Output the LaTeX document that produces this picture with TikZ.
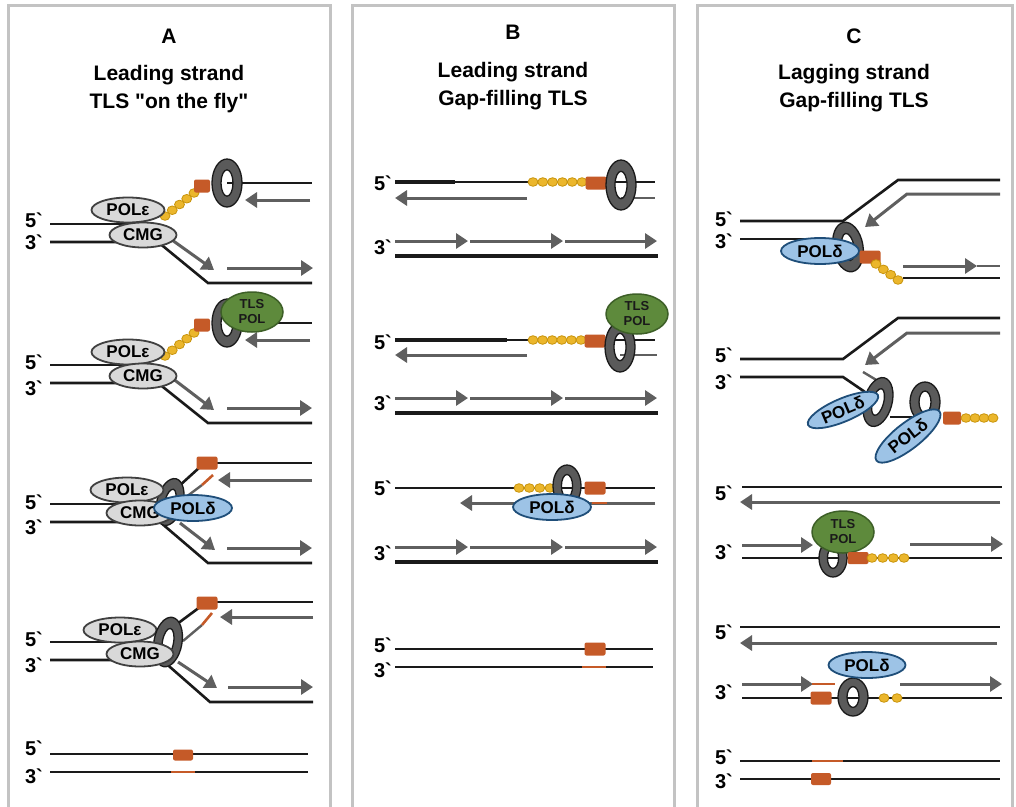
\documentclass[tikz,border=0pt]{standalone}
\usepackage{fontspec}
\setmainfont{Liberation Sans}
\usetikzlibrary{shapes.geometric, arrows.meta, calc}
\definecolor{strandblack}{HTML}{1A1A1A}
\definecolor{arrowgrey}{HTML}{5F5F5F}
\definecolor{framegrey}{HTML}{C3C3C3}
\definecolor{lesionorange}{HTML}{C55A28}
\definecolor{beadyellow}{HTML}{EBB62C}
\definecolor{beadedge}{HTML}{C8940C}
\definecolor{clampgrey}{HTML}{5A5A5A}
\definecolor{polegrey}{HTML}{D9D9D9}
\definecolor{poledge}{HTML}{404040}
\definecolor{deltablue}{HTML}{9DC3E6}
\definecolor{deltaedge}{HTML}{1F4E79}
\definecolor{tlsgreen}{HTML}{5E8A3C}
\definecolor{tlsedge}{HTML}{3D5F27}

% sliding clamp: [rotation]{centre}{x radius}{y radius}
\newcommand{\clampring}[4][0]{%
  \fill[clampgrey, even odd rule, rotate around={#1:(#2)}]
    (#2) ellipse [x radius=#3, y radius=#4] (#2) ellipse [x radius=0.4*#3, y radius=0.55*#4];
  \draw[strandblack, line width=1.3pt, rotate around={#1:(#2)}]
    (#2) ellipse [x radius=#3, y radius=#4] (#2) ellipse [x radius=0.4*#3, y radius=0.55*#4];
}
% ubiquitin chain: {from}{to}{number of beads}
\newcommand{\beadchain}[3]{%
  \foreach \k [evaluate=\k as \f using (\k-1)/(#3-1)] in {1,...,#3}
    \filldraw[fill=beadyellow, draw=beadedge, line width=0.8pt] ($(#1)!\f!(#2)$) ellipse [x radius=5, y radius=4.3];
}

\begin{document}
\begin{tikzpicture}[x=1pt, y=-1pt,
  strand/.style={draw=strandblack, line width=2.6pt},
  garrow/.style={draw=arrowgrey, line width=3pt, -{Triangle[length=12pt,width=15pt]}},
  gline/.style={draw=arrowgrey, line width=2.4pt},
  nick/.style={draw=lesionorange, line width=2.6pt},
  lesion/.style={fill=lesionorange, rounded corners=2pt, minimum width=21pt, minimum height=13pt, inner sep=0pt},
  polE/.style={ellipse, draw=poledge, line width=1.8pt, fill=polegrey, minimum width=73pt, minimum height=25pt, inner sep=0pt, font=\fontsize{17}{17}\selectfont\bfseries},
  cmg/.style={polE, minimum width=67pt},
  polD/.style={ellipse, draw=deltaedge, line width=1.8pt, fill=deltablue, minimum width=78pt, minimum height=26pt, inner sep=0pt, font=\fontsize{17}{17}\selectfont\bfseries},
  tlspol/.style={ellipse, draw=tlsedge, line width=1.5pt, fill=tlsgreen, minimum width=62pt, minimum height=40pt, inner sep=0pt, align=center, font=\fontsize{13}{15}\selectfont\bfseries, text=strandblack},
  endlabel/.style={anchor=east, inner sep=0pt, font=\fontsize{20}{20}\selectfont\bfseries},
  heading/.style={font=\fontsize{21}{28}\selectfont\bfseries, align=center},
  panel/.style={draw=framegrey, line width=3pt}
]
\useasboundingbox[fill=white] (0,0) rectangle (1016,806);

% Panel frames
\draw[panel] (8,812) -- (8,5) -- (330,5) -- (330,812);
\draw[panel] (352,812) -- (352,5) -- (674,5) -- (674,812);
\draw[panel] (697,812) -- (697,5) -- (1012,5) -- (1012,812);

% Headings
\node[heading] (titleA) at (169,36) {A};
\node[heading] (subA) at (169,89) {Leading strand\\TLS \textquotedbl on the fly\textquotedbl};
\node[heading] (titleB) at (513,32) {B};
\node[heading] (subB) at (513,86) {Leading strand\\Gap-filling TLS};
\node[heading] (titleC) at (854,36) {C};
\node[heading] (subC) at (854,88) {Lagging strand\\Gap-filling TLS};

%%% Panel A
% A1: fork stalled, TLS recruited
\node[endlabel] (a1five) at (43,220) {5\textasciigrave};
\node[endlabel] (a1three) at (43,242) {3\textasciigrave};
\draw[strand] (50,224) -- (140,224);
\draw[strand] (50,242) -- (158,242) -- (208,283) -- (312,283);
\draw[strand] (227,183) -- (312,183);
\draw[garrow] (310,200) -- (245,200);
\draw[garrow] (172,240) -- (214,270);
\draw[garrow] (227,268) -- (313,268);
\beadchain{194,193}{165,216}{5}
\node[lesion, minimum width=16pt] (a1les) at (202,186) {};
\clampring{227,183}{15}{24}
\node[polE] (a1pole) at (128,210) {POLε};
\node[cmg] (a1cmg) at (143,235) {CMG};

% A2: TLS polymerase on the clamp
\node[endlabel] (a2five) at (43,362) {5\textasciigrave};
\node[endlabel] (a2three) at (43,388) {3\textasciigrave};
\draw[strand] (50,365) -- (140,365);
\draw[strand] (50,383) -- (158,383) -- (208,423) -- (312,423);
\draw[strand] (227,323) -- (312,323);
\draw[garrow] (310,340) -- (245,340);
\draw[garrow] (172,378) -- (214,410);
\draw[garrow] (227,408) -- (312,408);
\beadchain{194,333}{165,356}{5}
\node[lesion, minimum width=16pt] (a2les) at (202,325) {};
\clampring{227,323}{15}{24}
\node[tlspol] (a2tls) at (252,312) {TLS\\POL};
\node[polE] (a2pole) at (128,352) {POLε};
\node[cmg] (a2cmg) at (143,376) {CMG};

% A3: POL delta takes over
\node[endlabel] (a3five) at (43,502) {5\textasciigrave};
\node[endlabel] (a3three) at (43,527) {3\textasciigrave};
\draw[strand] (50,504) -- (140,504);
\draw[strand] (50,522) -- (160,522) -- (208,563) -- (312,563);
\draw[strand] (178,487) -- (200,467);
\draw[strand] (207,463) -- (312,463);
\draw[gline] (182,500) -- (202,485);
\draw[nick] (202,485) -- (213,475);
\draw[garrow] (312,480) -- (218,480);
\draw[garrow] (180,523) -- (215,550);
\draw[garrow] (227,548) -- (312,548);
\clampring[-15]{170,502}{13}{24}
\node[polE] (a3pole) at (127,490) {POLε};
\node[cmg] (a3cmg) at (140,513) {CMG};
\node[polD] (a3pold) at (193,508) {POLδ};
\node[lesion] (a3les) at (207,463) {};

% A4: fork restarted past the lesion
\node[endlabel] (a4five) at (43,639) {5\textasciigrave};
\node[endlabel] (a4three) at (43,665) {3\textasciigrave};
\draw[strand] (50,642) -- (130,642);
\draw[strand] (50,660) -- (162,660) -- (210,702) -- (313,702);
\draw[strand] (173,627) -- (200,607);
\draw[strand] (207,602) -- (313,602);
\draw[gline] (183,641) -- (202,625);
\draw[nick] (202,625) -- (212,613);
\draw[garrow] (313,617) -- (220,617);
\draw[garrow] (178,662) -- (217,688);
\draw[garrow] (228,687) -- (313,687);
\node[polE] (a4pole) at (120,630) {POLε};
\clampring[-10]{168,642}{14}{25}
\node[cmg] (a4cmg) at (140,654) {CMG};
\node[lesion] (a4les) at (207,603) {};

% A5: product
\node[endlabel] (a5five) at (43,748) {5\textasciigrave};
\node[endlabel] (a5three) at (43,776) {3\textasciigrave};
\draw[strand] (50,754) -- (308,754);
\draw[strand] (50,772) -- (308,772);
\draw[nick] (171,772) -- (195,772);
\node[lesion, minimum height=11pt, minimum width=20pt] (a5les) at (183,755) {};

%%% Panel B
% B1
\node[endlabel] (b1five) at (392,183) {5\textasciigrave};
\node[endlabel] (b1three) at (392,247) {3\textasciigrave};
\draw[strand, line width=3.4pt] (395,182) -- (455,182);
\draw[strand, line width=2pt] (455,182) -- (655,182);
\draw[gline] (621,198) -- (655,198);
\draw[garrow] (527,198) -- (395,198);
\beadchain{533,182}{582,182}{6}
\node[lesion] (b1les) at (596,183) {};
\clampring{621,185}{15}{25}
\draw[garrow] (395,241) -- (468,241);
\draw[garrow] (470,241) -- (563,241);
\draw[garrow] (565,241) -- (657,241);
\draw[strand, line width=3.2pt] (395,256) -- (658,256);

% B2
\node[endlabel] (b2five) at (392,342) {5\textasciigrave};
\node[endlabel] (b2three) at (392,403) {3\textasciigrave};
\draw[strand, line width=3.4pt] (395,340) -- (507,340);
\draw[strand, line width=2pt] (507,340) -- (655,340);
\draw[gline] (620,355) -- (657,355);
\draw[garrow] (527,355) -- (395,355);
\beadchain{533,340}{581,340}{6}
\node[lesion] (b2les) at (595,341) {};
\clampring{620,347}{15}{25}
\node[tlspol] (b2tls) at (637,314) {TLS\\POL};
\draw[garrow] (395,398) -- (468,398);
\draw[garrow] (470,398) -- (563,398);
\draw[garrow] (565,398) -- (657,398);
\draw[strand, line width=3.2pt] (395,413) -- (658,413);

% B3
\node[endlabel] (b3five) at (392,488) {5\textasciigrave};
\node[endlabel] (b3three) at (392,553) {3\textasciigrave};
\draw[strand] (395,488) -- (655,488);
\beadchain{519,488}{550,488}{4}
\clampring{567,486}{14}{21}
\node[lesion] (b3les) at (595,488) {};
\draw[garrow] (655,503) -- (460,503);
\draw[nick, line width=2.4pt] (592,503) -- (607,503);
\node[polD] (b3pold) at (552,507) {POLδ};
\draw[garrow] (395,547) -- (468,547);
\draw[garrow] (470,547) -- (563,547);
\draw[garrow] (565,547) -- (657,547);
\draw[strand, line width=3.2pt] (395,562) -- (658,562);

% B4
\node[endlabel] (b4five) at (392,645) {5\textasciigrave};
\node[endlabel] (b4three) at (392,670) {3\textasciigrave};
\draw[strand] (395,649) -- (653,649);
\draw[strand] (395,667) -- (653,667);
\draw[nick] (582,667) -- (606,667);
\node[lesion] (b4les) at (595,649) {};

%%% Panel C
% C1
\node[endlabel] (c1five) at (733,219) {5\textasciigrave};
\node[endlabel] (c1three) at (733,241) {3\textasciigrave};
\draw[strand] (740,221) -- (843,221) -- (898,180) -- (1000,180);
\draw[garrow] (1000,194) -- (907,194) -- (865,227);
\draw[strand] (740,239) -- (840,239);
\draw[strand] (903,278) -- (1000,278);
\draw[garrow] (903,266) -- (977,266);
\draw[gline] (977,266) -- (1000,266);
\clampring[10]{848,247}{15}{25}
\node[polD] (c1pold) at (820,251) {POLδ};
\node[lesion] (c1les) at (870,257) {};
\beadchain{876,264}{898,280}{4}

% C2
\node[endlabel] (c2five) at (733,355) {5\textasciigrave};
\node[endlabel] (c2three) at (733,382) {3\textasciigrave};
\draw[strand] (740,359) -- (843,359) -- (898,318) -- (1000,318);
\draw[garrow] (1000,333) -- (907,333) -- (865,365);
\draw[gline] (863,372) -- (878,381);
\draw[strand] (740,377) -- (843,377) -- (865,392);
\clampring[-15]{878,402}{14}{25}
\node[polD, rotate=23, minimum width=76pt, minimum height=23pt] (c2pold) at (843,410) {POLδ};
\draw[strand] (890,417) -- (912,417);
\clampring{925,402}{15}{20}
\node[polD, rotate=38, minimum width=80pt] (c2poldb) at (908,436) {POLδ};
\node[lesion, minimum width=18pt] (c2les) at (952,418) {};
\beadchain{966,418}{993,418}{4}

% C3
\node[endlabel] (c3five) at (733,493) {5\textasciigrave};
\node[endlabel] (c3three) at (733,552) {3\textasciigrave};
\draw[strand] (742,487) -- (1002,487);
\draw[garrow] (1000,502) -- (740,502);
\draw[strand] (742,558) -- (1002,558);
\draw[garrow] (742,545) -- (813,545);
\clampring{833,558}{14}{19}
\node[tlspol, minimum height=42pt] (c3tls) at (843,532) {TLS\\POL};
\node[lesion, minimum height=12pt] (c3les) at (858,558) {};
\beadchain{872,558}{904,558}{4}
\draw[garrow] (910,544) -- (1003,544);

% C4
\node[endlabel] (c4five) at (733,632) {5\textasciigrave};
\node[endlabel] (c4three) at (733,692) {3\textasciigrave};
\draw[strand] (740,627) -- (1000,627);
\draw[garrow] (997,643) -- (740,643);
\draw[strand] (742,698) -- (1002,698);
\draw[garrow] (742,684) -- (813,684);
\draw[nick, line width=2pt] (812,684) -- (835,684);
\node[lesion] (c4les) at (821,698) {};
\clampring{853,697}{15}{19}
\beadchain{884,698}{897,698}{2}
\draw[garrow] (900,684) -- (1002,684);
\node[polD, minimum width=77pt] (c4pold) at (867,665) {POLδ};

% C5
\node[endlabel] (c5five) at (733,757) {5\textasciigrave};
\node[endlabel] (c5three) at (733,781) {3\textasciigrave};
\draw[strand] (740,761) -- (1000,761);
\draw[nick] (812,761) -- (843,761);
\draw[strand] (740,779) -- (1000,779);
\node[lesion, minimum width=20pt, minimum height=12pt] (c5les) at (821,779) {};
\end{tikzpicture}
\end{document}
